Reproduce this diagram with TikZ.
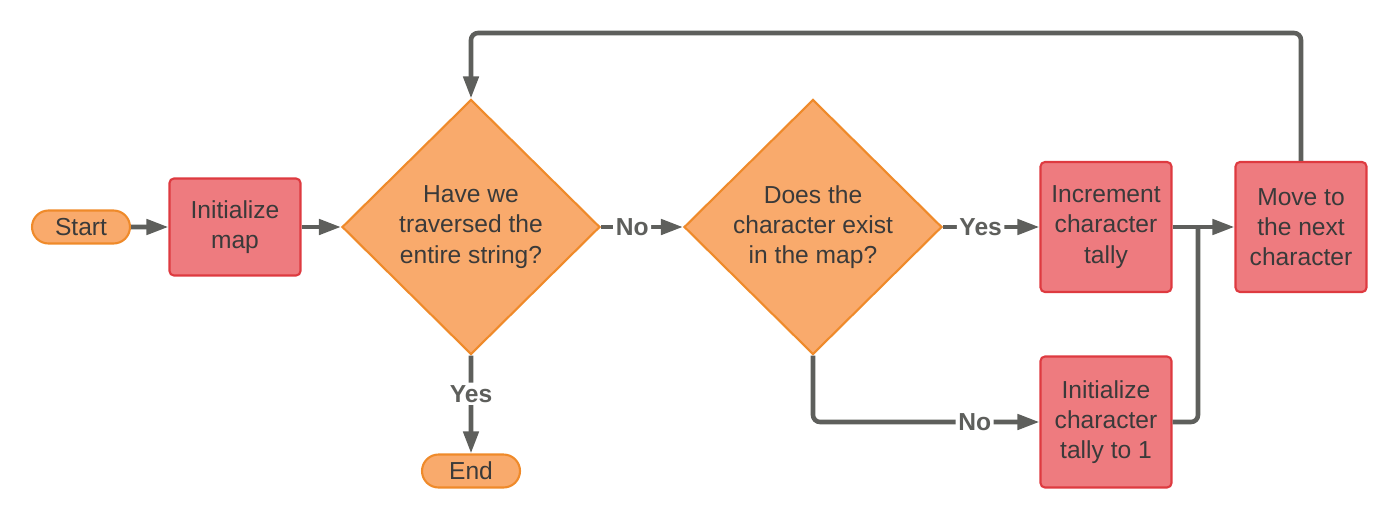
\documentclass[tikz,border=0pt]{standalone}
\usepackage{fontspec}
\setmainfont{Liberation Sans}
\usetikzlibrary{calc, arrows.meta, shapes.geometric, shapes.misc}
\definecolor{termfill}{HTML}{F9AA6C}
\definecolor{termline}{HTML}{EF8A2A}
\definecolor{procfill}{HTML}{EE7B7F}
\definecolor{procline}{HTML}{DE3A40}
\definecolor{linegray}{HTML}{5E5F5C}
\definecolor{txtgray}{HTML}{3A3A3A}

\begin{document}
\begin{tikzpicture}[x=0.02cm, y=-0.02cm,
    every node/.style={font=\fontsize{14}{17.2}\selectfont, text=txtgray},
    terminal/.style={rounded rectangle, draw=termline, fill=termfill, line width=1.2pt,
        minimum width=1.96cm, minimum height=0.66cm, inner sep=0pt},
    process/.style={rectangle, rounded corners=2.5pt, draw=procline, fill=procfill,
        line width=1.2pt, minimum width=2.62cm, align=center, inner sep=0pt},
    decision/.style={diamond, draw=termline, fill=termfill, line width=1.2pt,
        minimum width=5.16cm, minimum height=5.1cm, inner sep=0pt, align=center},
    flow/.style={draw=linegray, line width=2.6pt, rounded corners=4pt,
        -{Triangle[length=0.44cm, width=0.3cm]}},
    joint/.style={draw=linegray, line width=2.6pt, rounded corners=4pt},
    lbl/.style={fill=white, inner sep=1.5pt, text=linegray,
        font=\fontsize{14}{17}\selectfont\bfseries}]

    \useasboundingbox (0,0) rectangle (1400,521);

    % terminals
    \node[terminal] (start) at (81,227) {Start};
    \node[terminal] (stop) at (471,471) {End};

    % boxes
    \node[process, minimum height=1.94cm] (initmap) at (235,227) {Initialize\\map};
    \node[process, minimum height=2.6cm] (incr) at (1106,227) {Increment\\character\\tally};
    \node[process, minimum height=2.6cm] (move) at (1301,227) {Move to\\the next\\character};
    \node[process, minimum height=2.62cm] (inittally) at (1106,422) {Initialize\\character\\tally to 1};

    % questions
    \node[decision] (done) at (471,227) {Have we\\traversed the\\entire string?};
    \node[decision] (exists) at (813,227) {Does the\\character exist\\in the map?};

    % helper points
    \coordinate (looptop) at (471,33);
    \coordinate (merge) at (1198,227);

    % connectors
    \draw[flow] (start) -- (initmap);
    \draw[flow] (initmap) -- (done);
    \draw[flow] (done) -- node[lbl, pos=0.38] {No} (exists);
    \draw[flow] (done) -- node[lbl, pos=0.39] {Yes} (stop);
    \draw[flow] (exists) -- node[lbl, pos=0.39] {Yes} (incr);
    \draw[flow] (exists.south) |- node[lbl, pos=0.857] {No} (inittally);
    \draw[flow] (incr) -- (move);
    \draw[joint] (inittally.east) -| (merge);
    \draw[flow] (move.north) |- (looptop) -- (done.north);
\end{tikzpicture}
\end{document}
